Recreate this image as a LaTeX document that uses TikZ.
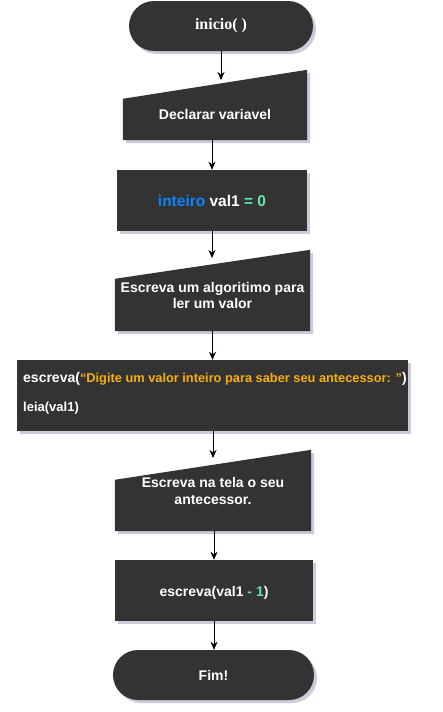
\documentclass[tikz,border=0pt]{standalone}
\usepackage{fontspec}
\setmainfont{Liberation Sans}
\newfontfamily\titlefont{Liberation Serif}
\usetikzlibrary{arrows.meta,calc,shadows}
\definecolor{boxfill}{HTML}{333333}
\definecolor{shadowc}{RGB}{150,155,185}
\definecolor{kwblue}{HTML}{0A84FF}
\definecolor{numgreen}{HTML}{5EEBA3}
\definecolor{strorange}{HTML}{F7AE0F}
\tikzset{
  shade box/.style={drop shadow={shadow xshift=3pt,shadow yshift=-3pt,fill=shadowc,opacity=0.5}},
  terminal/.style={fill=boxfill, rounded corners=25pt, shade box, inner sep=0pt, text=white},
  procbox/.style={fill=boxfill, shade box, inner sep=0pt, text=white},
  manualframe/.style={inner sep=0pt, draw=none},
  manualfill/.style={fill=boxfill, shade box},
  labeltext/.style={text=white, inner sep=0pt, font=\bfseries\fontsize{14}{15.5}\selectfont, align=center},
  arr/.style={draw=black, line width=1pt, -{Stealth[length=8pt,width=7pt,inset=2.5pt]}},
}
\begin{document}
\begin{tikzpicture}[x=1pt,y=-1pt]
\fill[white] (0,0) rectangle (442,712);
\useasboundingbox (0,0) rectangle (442,712);

% inicio
\node[terminal, minimum width=184pt, minimum height=50pt,
      font=\titlefont\bfseries\fontsize{16}{19}\selectfont] (n1) at (221,26) {inicio( )};

% Declarar variavel (manual input)
\node[manualframe, minimum width=184pt, minimum height=70pt] (n2) at (215,105) {};
\fill[manualfill] (n2.south west) -- (n2.south east) -- (n2.north east) -- ($(n2.north west)+(0,29)$) -- cycle;
\node[labeltext] (n2t) at (215,114.5) {Declarar variavel};

% inteiro val1 = 0
\node[procbox, minimum width=190pt, minimum height=61pt,
      font=\bfseries\fontsize{15.5}{17}\selectfont] (n3) at (212,200.5)
      {\textcolor{kwblue}{inteiro} val1 \textcolor{numgreen}{= 0}};

% Escreva um algoritimo
\node[manualframe, minimum width=195pt, minimum height=81pt] (n4) at (212.5,290.5) {};
\fill[manualfill] (n4.south west) -- (n4.south east) -- (n4.north east) -- ($(n4.north west)+(0,29)$) -- cycle;
\node[labeltext] (n4t) at (212.5,295.4) {Escreva um algoritimo para\\ler um valor};

% escreva / leia
\node[procbox, minimum width=391pt, minimum height=71pt] (n5) at (212.5,395.5) {};
\node[labeltext, anchor=base west] (n5a) at (23,382.5)
  {escreva(\textcolor{strorange}{\fontsize{12.8}{15}\selectfont “Digite um valor inteiro para saber seu antecessor: ”})};
\node[labeltext, anchor=base west, font=\bfseries\fontsize{13}{15}\selectfont] (n5b) at (23,411) {leia(val1)};

% Escreva na tela
\node[manualframe, minimum width=196pt, minimum height=81pt] (n6) at (213,490.5) {};
\fill[manualfill] (n6.south west) -- (n6.south east) -- (n6.north east) -- ($(n6.north west)+(0,30)$) -- cycle;
\node[labeltext, font=\bfseries\fontsize{14}{17}\selectfont] (n6t) at (213,491) {Escreva na tela o seu\\antecessor.};

% escreva(val1 - 1)
\node[procbox, minimum width=198pt, minimum height=61pt] (n7) at (214,590.5) {};
\node[labeltext] (n7t) at (214,593) {escreva(val1 \textcolor{numgreen}{- 1})};

% Fim
\node[terminal, minimum width=201pt, minimum height=50pt,
      font=\bfseries\fontsize{14}{17}\selectfont] (n8) at (213.5,675) {Fim!};

% arrow end points on the slanted tops
\coordinate (c12) at (221,80);
\coordinate (c34) at (212,258);
\coordinate (c56) at (213,458);

% connectors
\draw[arr] (n1.south) -- (c12);
\draw[arr] (n2.south -| n3.north) -- (n3.north);
\draw[arr] (n3.south) -- (c34);
\draw[arr] (n4.south) -- (n4.south |- n5.north);
\draw[arr] (n5.south -| c56) -- (c56);
\draw[arr] (n7.north |- n6.south) -- (n7.north);
\draw[arr] (n7.south) -- (n7.south |- n8.north);
\end{tikzpicture}
\end{document}
